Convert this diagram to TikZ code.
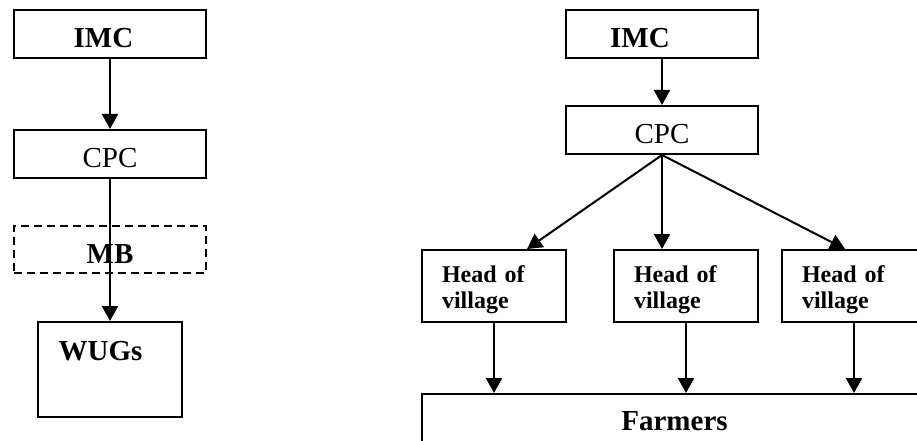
\documentclass[tikz,border=0pt]{standalone}
\usepackage{fontspec}
\setmainfont{Liberation Serif}
\usetikzlibrary{arrows.meta, calc}

\begin{document}
\begin{tikzpicture}[x=1pt, y=-1pt,
        box/.style={draw, line width=2pt, inner sep=0pt, minimum width=192pt, minimum height=48pt,
            text height=27pt, text depth=0pt, font=\fontsize{29}{31}\selectfont},
        boldbox/.style={box, font=\fontsize{29}{31}\selectfont\bfseries},
        dashbox/.style={boldbox, dash pattern=on 8pt off 5pt},
        headbox/.style={draw, line width=2pt, inner xsep=20pt, inner ysep=0pt, text width=104pt,
            minimum height=72pt, align=left, font=\fontsize{24}{26}\selectfont\bfseries},
        arr/.style={line width=2pt, -{Triangle[width=16pt,length=15pt]}}]
        \useasboundingbox (0,0) rectangle (917,441);
        \clip (0,0) rectangle (917,441);

        % left chart
        \node[boldbox] (imcL) at (110,34) {IMC\hspace*{13pt}};
        \node[box] (cpcL) at (110,154) {CPC};
        \node[dashbox, minimum height=47pt] (mb) at (110,249.5) {MB};
        \node[boldbox, minimum width=144pt, minimum height=95pt, text height=20pt, text depth=39pt] (wugs) at (110,369.5) {WUGs\hspace*{19pt}};

        \draw[arr] (imcL.south)--(cpcL.north);
        \draw[arr] (cpcL.south)--(wugs.north);

        % right chart
        \node[boldbox] (imcR) at (662,34) {IMC\hspace*{44pt}};
        \node[box] (cpcR) at (662,130) {CPC};
        \node[headbox] (headA) at (494,286) {\rule{0pt}{24pt}Head of\\village};
        \node[headbox] (headB) at (686,286) {\rule{0pt}{24pt}Head of\\village};
        \node[headbox] (headC) at (854,286) {\rule{0pt}{24pt}Head of\\village};
        \node[boldbox, minimum width=505pt, minimum height=80pt, text height=20pt, text depth=28pt] (farmers) at (674.5,434) {Farmers};

        \draw[arr] (imcR.south)--(cpcR.north);
        \draw[arr] (cpcR.south)--([xshift=33pt]headA.north);
        \draw[arr] (cpcR.south)--([xshift=-24pt]headB.north);
        \draw[arr] (cpcR.south)--([xshift=-9pt]headC.north);
        \draw[arr] (headA.south)--(headA.south |- farmers.north);
        \draw[arr] (headB.south)--(headB.south |- farmers.north);
        \draw[arr] (headC.south)--(headC.south |- farmers.north);

    \end{tikzpicture}
\end{document}
